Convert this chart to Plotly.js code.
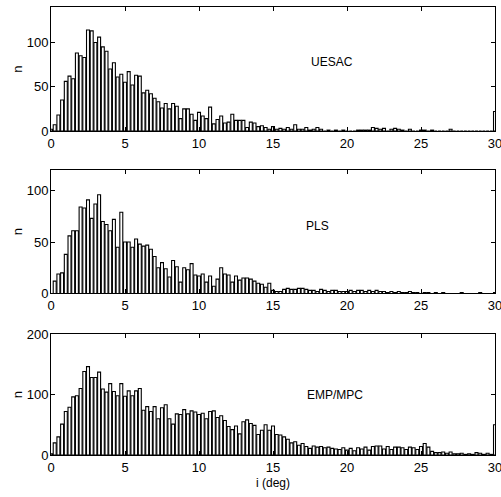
<!DOCTYPE html>
<html>
<head>
<meta charset="utf-8">
<script src="https://cdn.plot.ly/plotly-3.0.1.min.js"></script>
<style>
html,body{margin:0;padding:0;background:#fff;}
#chart{width:501px;height:497px;}
</style>
</head>
<body>
<div id="chart"></div>
<script>
// Histogram bins: centres start at 0 deg, step 0.25 deg (last bin at 30 holds the overflow)
const binStart = 0;
const binStep = 0.25;

const xTickVals = [0, 5, 10, 15, 20, 25, 30];
const xTickText = ["0", "5", "10", "15", "20", "25", "30"];

const panelNames = ["UESAC", "PLS", "EMP/MPC"];

const uesacCounts = [
  2, 7, 18, 35, 56, 62, 59, 88, 85, 83,
  114, 113, 100, 106, 95, 90, 70, 77, 61, 64,
  55, 67, 52, 63, 62, 43, 46, 42, 37, 33,
  26, 31, 25, 31, 28, 14, 25, 25, 19, 12,
  21, 17, 14, 27, 8, 13, 17, 9, 10, 19,
  12, 12, 12, 4, 10, 9, 5, 6, 4, 2,
  5, 2, 3, 2, 4, 2, 7, 2, 2, 4,
  1, 2, 4, 2, 0, 1, 0, 1, 0, 1,
  0, 0, 0, 1, 1, 1, 1, 4, 3, 2,
  3, 0, 2, 3, 2, 1, 0, 2, 0, 0,
  1, 1, 0, 1, 0, 0, 0, 0, 2, 0,
  0, 0, 0, 0, 0, 0, 0, 0, 0, 0,
  22
];

const plsCounts = [
  0, 12, 19, 20, 38, 56, 61, 61, 84, 83,
  91, 73, 87, 96, 70, 67, 61, 72, 45, 79,
  50, 50, 45, 53, 48, 46, 47, 43, 36, 25,
  30, 24, 16, 32, 26, 11, 25, 23, 29, 18,
  17, 19, 11, 17, 7, 14, 25, 19, 18, 11,
  17, 13, 15, 15, 14, 12, 10, 9, 6, 10,
  3, 2, 2, 4, 5, 4, 4, 5, 5, 4,
  3, 3, 2, 4, 3, 2, 3, 3, 2, 2,
  2, 3, 2, 3, 3, 2, 3, 2, 3, 2,
  2, 1, 2, 1, 2, 1, 1, 2, 1, 1,
  0, 1, 1, 0, 1, 0, 1, 0, 0, 0,
  0, 1, 0, 0, 0, 0, 1, 0, 0, 0,
  1
];

const empCounts = [
  2, 20, 30, 51, 72, 79, 96, 98, 110, 138,
  146, 128, 128, 137, 109, 104, 118, 105, 98, 118,
  97, 106, 98, 106, 110, 74, 80, 72, 80, 60,
  78, 83, 60, 51, 68, 67, 75, 68, 73, 71,
  67, 69, 60, 72, 73, 62, 65, 57, 47, 42,
  48, 35, 55, 58, 52, 49, 34, 41, 50, 41,
  48, 34, 33, 30, 26, 20, 22, 16, 19, 14,
  11, 15, 13, 14, 12, 13, 11, 10, 9, 12,
  8, 11, 7, 12, 10, 13, 8, 14, 15, 15,
  10, 14, 9, 13, 13, 12, 9, 13, 12, 9,
  14, 19, 13, 6, 4, 4, 5, 3, 5, 2,
  2, 3, 1, 2, 1, 4, 3, 1, 3, 1,
  50
];

const yTicks1 = [0, 50, 100];
const yTicks2 = [0, 50, 100];
const yTicks3 = [0, 100, 200];
const yMax = [140, 120, 200];

const series = [uesacCounts, plsCounts, empCounts];
const axisIds = ["", "2", "3"];

const font = {family: "Liberation Sans, Arial, Helvetica, sans-serif", size: 13, color: "#000"};

const traces = series.map((s, i) => ({
  type: "bar",
  x0: binStart,
  dx: binStep,
  y: s,
  width: binStep * 0.8,
  marker: {color: "#ffffff", line: {color: "#000000", width: 1.1}},
  xaxis: "x" + axisIds[i],
  yaxis: "y" + axisIds[i],
  hoverinfo: "x+y",
  showlegend: false
}));

// vertical domains (paper fractions)
const domains = [[0.7232, 1.0], [0.3605, 0.6362], [0.0, 0.2701]];
const yTickSets = [yTicks1, yTicks2, yTicks3];

const layout = {
  width: 501,
  height: 497,
  margin: {l: 51, r: 6, t: 7, b: 42, pad: 0},
  paper_bgcolor: "#ffffff",
  plot_bgcolor: "#ffffff",
  font: font,
  showlegend: false,
  bargap: 0,
  annotations: []
};

const labelPos = [[19.0, 78], [18.0, 66], [19.2, 99]];

for (let i = 0; i < 3; i++) {
  const xa = {
    domain: [0, 1],
    anchor: "y" + axisIds[i],
    range: [0, 30],
    tickvals: xTickVals,
    ticktext: xTickText,
    ticks: "inside",
    ticklen: 4,
    tickcolor: "#000",
    showline: true,
    linecolor: "#000",
    linewidth: 1,
    mirror: "ticks",
    showgrid: false,
    zeroline: false,
    ticklabeloverflow: "allow",
    ticklabelstandoff: 0,
    tickfont: {size: 13, color: "#000"},
    fixedrange: true
  };
  if (i === 2) {
    xa.title = {text: "i (deg)", font: {size: 12, color: "#000"}, standoff: 5};
  }
  const ya = {
    domain: domains[i],
    anchor: "x" + axisIds[i],
    range: [0, yMax[i]],
    tickvals: yTickSets[i],
    ticks: "inside",
    ticklen: 4,
    tickcolor: "#000",
    showline: true,
    linecolor: "#000",
    linewidth: 1,
    mirror: "ticks",
    showgrid: false,
    zeroline: false,
    ticklabeloverflow: "allow",
    ticklabelstandoff: -1,
    tickfont: {size: 13, color: "#000"},
    title: {text: "n", font: {size: 13, color: "#000"}, standoff: 1},
    fixedrange: true
  };
  layout["xaxis" + axisIds[i]] = xa;
  layout["yaxis" + axisIds[i]] = ya;
  layout.annotations.push({
    text: panelNames[i],
    xref: "x" + axisIds[i],
    yref: "y" + axisIds[i],
    x: labelPos[i][0],
    y: labelPos[i][1],
    showarrow: false,
    font: {size: 12, color: "#000"}
  });
}

Plotly.newPlot("chart", traces, layout, {staticPlot: true, displayModeBar: false});
</script>
</body>
</html>
